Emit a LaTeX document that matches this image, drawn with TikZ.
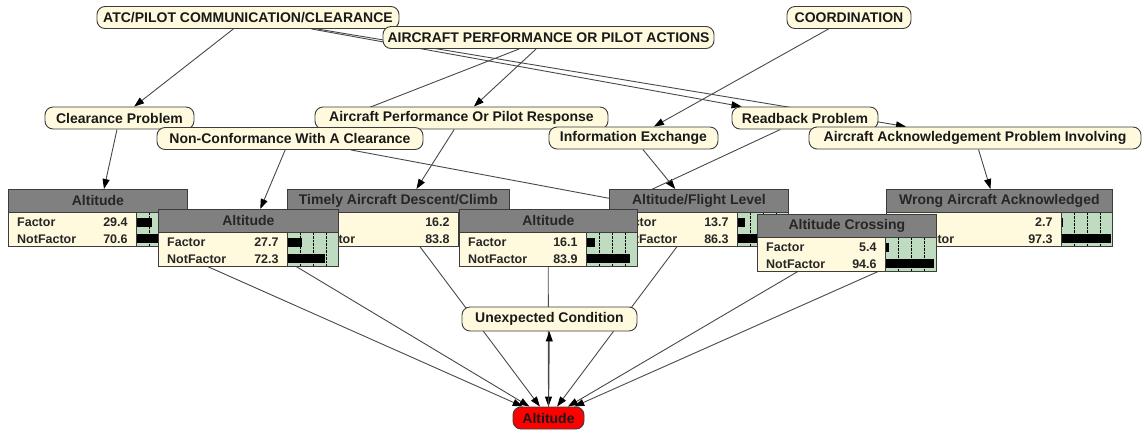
\documentclass[tikz,border=0pt]{standalone}
\usepackage{fontspec}
\setmainfont{Liberation Sans}
\usetikzlibrary{arrows.meta,calc,backgrounds}

\definecolor{nodecream}{RGB}{255,250,222}
\definecolor{titlegray}{RGB}{128,128,128}
\definecolor{bargreen}{RGB}{192,220,192}
\definecolor{edgegray}{RGB}{72,72,72}
\definecolor{framegray}{RGB}{60,60,60}

% belief table: name, left, top, width, title, Factor, NotFactor
\newcommand{\probtab}[7]{%
  \node[tabbody, minimum width=#4pt, anchor=north west] (#1) at (#2,#3) {};
  \node[tabtitle, minimum width=#4pt, anchor=north west] (#1t) at (#2,#3) {#5};
  \coordinate (#1g) at ($(#1t.south east)+(-51,0)$);
  \fill[bargreen] (#1g) rectangle (#1.south east);
  \foreach \q in {12.75,25.5,38.25}
    \draw[densely dotted] ($(#1g)+(\q,0)$) -- ($(#1g)+(\q,34)$);
  \fill ($(#1g)+(0,5)$) rectangle ++(#6*0.51,9);
  \fill ($(#1g)+(0,21.5)$) rectangle ++(#7*0.51,9);
  \draw[framegray, line width=0.8pt] (#1g) -- (#1g |- #1.south);
  \draw[framegray, line width=0.8pt] (#1.north west) rectangle (#1.south east);
  \node[rowtxt, anchor=west] (#1f) at ($(#1t.south west)+(9,9.5)$) {Factor};
  \node[rowtxt, anchor=west] (#1n) at ($(#1t.south west)+(9,26)$) {NotFactor};
  \node[rowtxt, anchor=east] (#1fv) at ($(#1g)+(-9,9.5)$) {#6};
  \node[rowtxt, anchor=east] (#1nv) at ($(#1g)+(-9,26)$) {#7};
}

\begin{document}
\begin{tikzpicture}[
    x=1pt, y=-1pt,
    topic/.style={draw=framegray, fill=nodecream, line width=0.9pt, rounded corners=8pt,
      minimum height=22pt, inner sep=0pt, text=black!90,
      font=\fontsize{14}{16}\selectfont\bfseries},
    query/.style={topic, fill=red},
    tabbody/.style={draw=framegray, fill=nodecream, minimum height=57pt, inner sep=0pt},
    tabtitle/.style={draw=framegray, fill=titlegray, line width=0.8pt, minimum height=23pt,
      inner sep=0pt, text=black!85, font=\fontsize{14}{16}\selectfont\bfseries},
    rowtxt/.style={inner sep=0pt, text=black!85, font=\fontsize{12.5}{14}\selectfont\bfseries},
    arr/.style={draw=edgegray, line width=0.9pt, -{Triangle[length=10pt,width=7pt,color=black]}}
]
\useasboundingbox (0,0) rectangle (1144,432);

% top level factors
\node[topic, minimum width=302pt] (atc) at (248,17.5) {ATC/PILOT COMMUNICATION/CLEARANCE};
\node[topic, minimum width=331pt] (appa) at (548.5,37.5) {AIRCRAFT PERFORMANCE OR PILOT ACTIONS};
\node[topic, minimum width=124pt] (coord) at (849,17.5) {COORDINATION};

% second level
\node[topic, minimum width=149pt] (clr) at (119.5,118) {Clearance Problem};
\node[topic, minimum width=293pt] (apor) at (461.5,118) {Aircraft Performance Or Pilot Response};
\node[topic, minimum width=266pt] (ncc) at (290,138.5) {Non-Conformance With A Clearance};
\node[topic, minimum width=169pt] (iex) at (633.5,138) {Information Exchange};
\node[topic, minimum width=146pt] (rdb) at (805,118) {Readback Problem};
\node[topic, minimum width=332pt] (ack) at (975,138) {Aircraft Acknowledgement Problem Involving};

% belief tables
\probtab{alt1}{8}{189}{179}{Altitude}{29.4}{70.6}
\probtab{tadc}{287}{189}{222}{Timely Aircraft Descent/Climb}{16.2}{83.8}
\probtab{afl}{609}{189}{179}{Altitude/Flight Level}{13.7}{86.3}
\probtab{wak}{886}{189}{226}{Wrong Aircraft Acknowledged}{2.7}{97.3}
\probtab{alt2}{158}{209}{180}{Altitude}{27.7}{72.3}
\probtab{alt3}{459}{209}{178}{Altitude}{16.1}{83.9}
\probtab{axg}{757}{214}{179}{Altitude Crossing}{5.4}{94.6}

\node[topic, minimum width=175pt, minimum height=24pt] (unx) at (549.5,319) {Unexpected Condition};
\node[query, minimum width=71pt] (alt) at (548.5,418) {Altitude};

% links
\begin{scope}[on background layer]
\draw[arr] (atc) -- (clr);
\draw[arr] (atc) -- (rdb);
\draw[arr] (atc) -- (ack);
\draw[arr] (appa) -- (apor);
\draw[arr] (appa) -- (ncc);
\draw[arr] (coord) -- (iex);
\draw[arr] (clr) -- (alt1);
\draw[arr] (ncc) -- (alt2);
\draw[arr] (ncc) -- (axg);
\draw[arr] (apor) -- (tadc);
\draw[arr] (iex) -- (afl);
\draw[arr] (rdb) -- (alt3);
\draw[arr] (ack) -- (wak);
\foreach \n in {alt1,alt2,tadc,alt3,afl,axg,wak}
  \draw[arr] (\n) -- (alt);
\draw[arr] (alt) -- (unx);
\end{scope}
\end{tikzpicture}
\end{document}
